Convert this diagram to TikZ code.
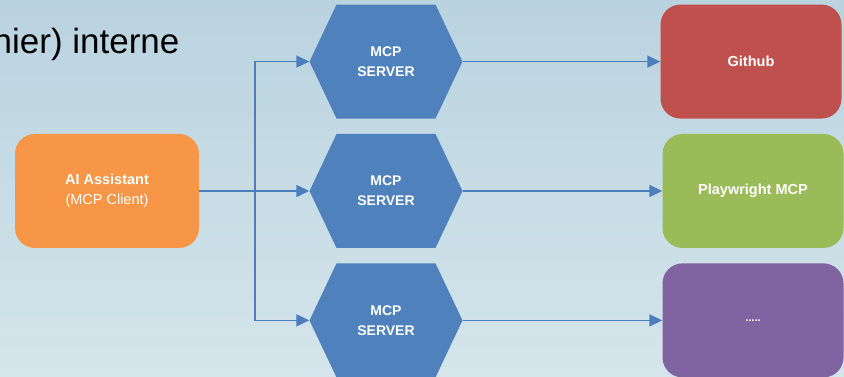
\documentclass[tikz,border=0pt]{standalone}
\usepackage{fontspec}
\setmainfont{Liberation Sans}
\usetikzlibrary{shapes.symbols,arrows.meta,positioning}
\definecolor{bgtop}{HTML}{B9D3DF}
\definecolor{bgbottom}{HTML}{D5E5EB}
\definecolor{clientorange}{HTML}{F79646}
\definecolor{gitred}{HTML}{C0504D}
\definecolor{pwgreen}{HTML}{9BBB59}
\definecolor{morepurple}{HTML}{8064A2}
\definecolor{serverblue}{HTML}{4F81BD}
\definecolor{wireblue}{HTML}{4A7EBD}

\begin{document}
\begin{tikzpicture}[x=1pt, y=1pt,
  appbox/.style={rounded corners=20pt, minimum width=181pt, minimum height=114pt,
                 text=white, align=center, font=\fontsize{14.5}{20}\selectfont\bfseries},
  mcphex/.style={signal, signal to=west and east, signal pointer angle=129.3,
                 fill=serverblue, minimum width=153pt, minimum height=114pt, inner sep=0pt,
                 text=white, align=center, font=\fontsize{14}{20}\selectfont\bfseries},
  link/.style={wireblue, line width=1.5pt, -{Triangle[length=13pt,width=12pt]}}]
  \useasboundingbox (0,0) rectangle (844,377);
  \clip (0,0) rectangle (844,377);
  % slide background
  \shade[top color=bgtop, bottom color=bgbottom] (0,0) rectangle (844,377);
  \node[anchor=base east, font=\fontsize{35}{40}\selectfont] (heading) at (183,323) {nier) interne};
  % client
  \node[appbox, minimum width=184pt, fill=clientorange] (client) at (107,186)
    {AI Assistant\\\mdseries(MCP Client)};
  % servers
  \node[mcphex] (srv2) at (386,186) {MCP\\SERVER};
  \node[mcphex, above=15pt of srv2] (srv1) {MCP\\SERVER};
  \node[mcphex, below=15pt of srv2] (srv3) {MCP\\SERVER};
  % targets
  \node[appbox, fill=pwgreen] (playwright) at (753,186) {Playwright MCP};
  \node[appbox, fill=gitred, above=15pt of playwright, xshift=-2pt] (github) {Github};
  \node[appbox, fill=morepurple, below=15pt of playwright] (more) {\fontsize{11}{12}\selectfont .....};
  % wiring
  \coordinate (split) at (255,186);
  \draw[wireblue, line width=2.5pt] (client.east) -- (split);
  \draw[link] (split) -- (srv2.west);
  \draw[link] (split) |- (srv1.west);
  \draw[link] (split) |- (srv3.west);
  \draw[link] (srv1.east) -- (github.west);
  \draw[link] (srv2.east) -- (playwright.west);
  \draw[link] (srv3.east) -- (more.west);
\end{tikzpicture}
\end{document}
